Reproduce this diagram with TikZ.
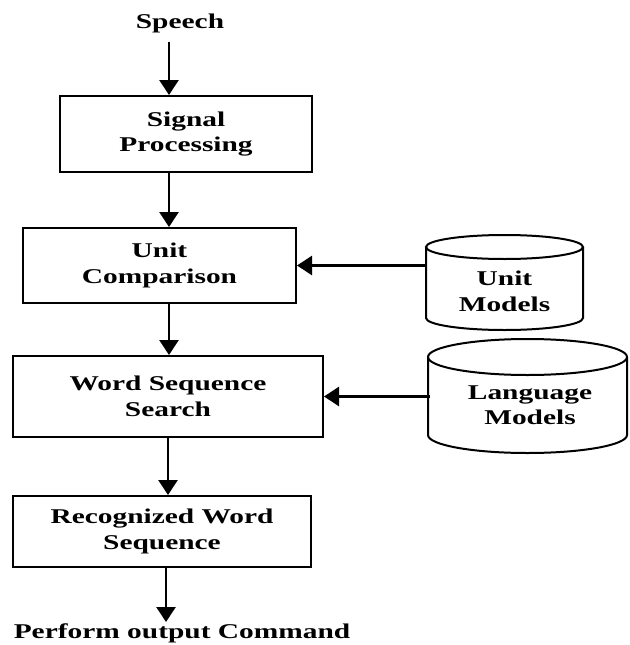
\documentclass[tikz,border=0pt]{standalone}
\usepackage{fontspec}
\setmainfont[FakeStretch=1.4]{Liberation Serif}
\usetikzlibrary{arrows.meta}
\begin{document}
\begin{tikzpicture}[x=1pt,y=-1pt,
  lbl/.style={font=\fontsize{21}{25.5}\selectfont\bfseries, align=center, inner sep=0pt},
  boxnode/.style={lbl, draw, line width=2pt},
  arr/.style={line width=2.6pt, -{Triangle[length=15pt,width=19pt]}},
  cyl/.style={line width=2pt}]
\useasboundingbox (0,0) rectangle (629,645);
% main column
\node[lbl] (speech) at (180,23) {Speech};
\node[boxnode, minimum width=252pt, minimum height=76pt] (sp) at (186,134) {Signal\\Processing};
\node[boxnode, minimum width=273pt, minimum height=75pt] (uc) at (159.5,265.5) {Unit\\Comparison};
\node[boxnode, minimum width=310pt, minimum height=81pt] (ws) at (168,396.5) {Word Sequence\\Search};
\node[boxnode, minimum width=298pt, minimum height=71pt] (rw) at (162,531.5) {Recognized Word\\Sequence};
\node[lbl] (out) at (182,633) {Perform output Command};
% cylinders
\draw[cyl] (426,247) -- (426,318) arc[start angle=180,end angle=0,x radius=78.5,y radius=12] -- (583,247);
\draw[cyl] (504.5,247) ellipse[x radius=78.5,y radius=12];
\node[lbl, minimum width=157pt, minimum height=60pt] (um) at (504.5,291.5) {Unit\\Models};
\draw[cyl] (428,357) -- (428,435) arc[start angle=180,end angle=0,x radius=99.5,y radius=18] -- (627,357);
\draw[cyl] (527.5,357) ellipse[x radius=99.5,y radius=18];
\node[lbl, minimum width=199pt, minimum height=60pt] (lm) at (530,405) {Language\\Models};
% connectors
\coordinate (ax1) at (169,0);
\coordinate (ax2) at (168,0);
\coordinate (ax3) at (166,0);
\draw[arr] (ax1 |- 0,42) -- (ax1 |- sp.north);
\draw[arr] (ax1 |- sp.south) -- (ax1 |- uc.north);
\draw[arr] (ax1 |- uc.south) -- (ax1 |- ws.north);
\draw[arr] (ax2 |- ws.south) -- (ax2 |- rw.north);
\draw[arr] (ax3 |- rw.south) -- (ax3 |- 0,622);
\draw[arr] (um.west |- uc.east) -- (uc.east);
\draw[arr] (lm.west |- ws.east) -- (ws.east);
\end{tikzpicture}
\end{document}
